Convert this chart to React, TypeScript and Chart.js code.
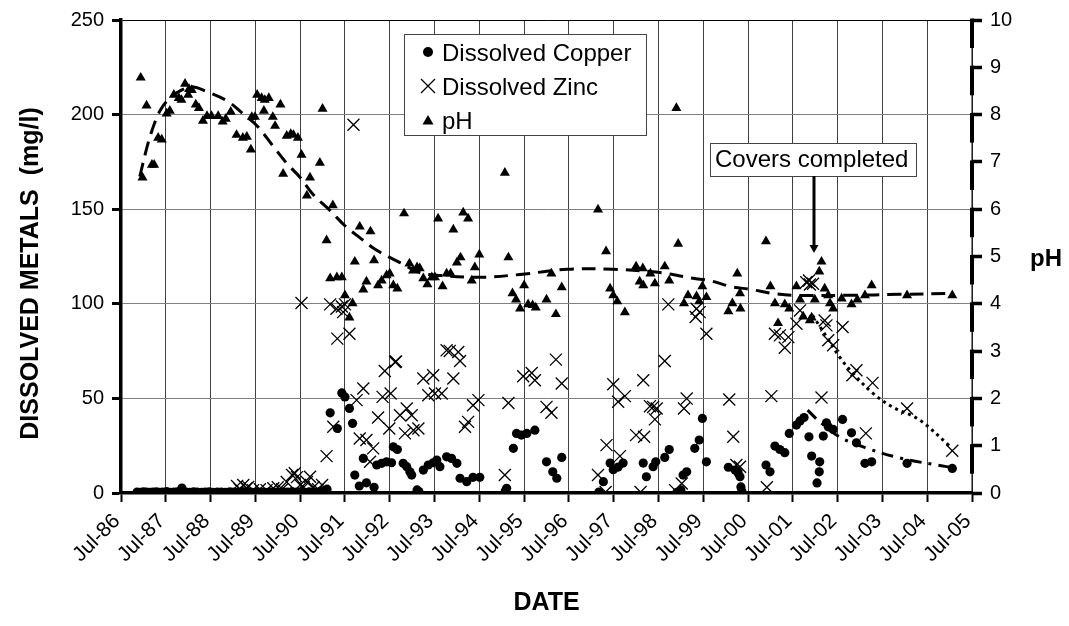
import React, { useEffect, useRef } from "react";
import { Chart, registerables } from "chart.js";

Chart.register(...registerables);

const FONT = "'Liberation Sans', Arial, Helvetica, sans-serif";

// X axis ticks (decimal years, July of each year)
const xTickValues = [1986.5, 1987.5, 1988.5, 1989.5, 1990.5, 1991.5, 1992.5, 1993.5, 1994.5, 1995.5, 1996.5, 1997.5, 1998.5, 1999.5, 2000.5, 2001.5, 2002.5, 2003.5, 2004.5, 2005.5];
const xTickLabels = ["Jul-86", "Jul-87", "Jul-88", "Jul-89", "Jul-90", "Jul-91", "Jul-92", "Jul-93", "Jul-94", "Jul-95", "Jul-96", "Jul-97", "Jul-98", "Jul-99", "Jul-00", "Jul-01", "Jul-02", "Jul-03", "Jul-04", "Jul-05"];
const phTickValues = [10, 9, 8, 7, 6, 5, 4, 3, 2, 1, 0];

// Dissolved copper (mg/l)
const copperDates = [
  1986.86, 1986.93, 1987.0, 1987.07, 1987.14, 1987.21, 1987.29, 1987.36, 1987.43, 1987.52, 1987.6, 1987.68, 1987.76, 1987.86, 1987.95,
  1988.03, 1988.12, 1988.2, 1988.3, 1988.38, 1988.47, 1988.55, 1988.65, 1988.74, 1988.83, 1988.93, 1989.02, 1989.12, 1989.22, 1989.32,
  1989.42, 1989.52, 1989.62, 1989.72, 1989.82, 1989.92, 1990.02, 1990.12, 1990.22, 1990.32, 1990.42, 1990.5, 1990.6, 1990.7, 1990.8,
  1990.88, 1990.96, 1991.03, 1991.1,
  1991.17, 1991.33, 1991.43, 1991.5, 1991.6, 1991.67, 1991.72, 1991.82, 1991.91, 1991.98, 1992.15, 1992.21, 1992.32, 1992.43, 1992.54,
  1992.58, 1992.67, 1992.8, 1992.88, 1992.95, 1992.99, 1993.11, 1993.15, 1993.25, 1993.36, 1993.47, 1993.55, 1993.62, 1993.77, 1993.88,
  1994.0, 1994.07, 1994.22, 1994.36, 1994.51, 1995.08, 1995.11, 1995.26, 1995.33, 1995.44, 1995.56, 1995.74, 1996.0, 1996.14, 1996.23,
  1996.34, 1997.17, 1997.27, 1997.42, 1997.49, 1997.6, 1997.71, 1998.16, 1998.23, 1998.38, 1998.44, 1998.64, 1998.74, 1998.91, 1999.0,
  1999.05, 1999.13, 1999.31, 1999.41, 1999.48, 1999.57, 2000.06, 2000.21, 2000.28, 2000.32, 2000.34, 2000.36, 2000.9, 2000.99, 2001.1,
  2001.21, 2001.32, 2001.42, 2001.58, 2001.66, 2001.75, 2001.86, 2001.92, 2002.04, 2002.09, 2002.1, 2002.18, 2002.25, 2002.29, 2002.4,
  2002.61, 2002.81, 2002.92, 2003.11, 2003.26, 2004.05, 2005.06,
];
const copperValues = [
  0.5, 0.4, 0.6, 0.5, 0.3, 0.5, 0.6, 0.4, 0.5, 0.7, 0.4, 0.5, 0.6, 2.6, 0.5,
  0.4, 0.6, 0.5, 0.3, 0.5, 0.6, 0.4, 0.5, 0.5, 0.3, 0.6, 0.5, 0.4, 0.7, 0.5,
  0.4, 0.6, 0.5, 0.4, 0.6, 0.5, 0.4, 0.6, 0.5, 0.7, 0.5, 0.6, 0.4, 0.6, 0.5,
  0.4, 1.0, 1.2, 2.0,
  42.4, 34.1, 52.9, 50.8, 44.7, 36.8, 9.5, 3.7, 18.3, 5.4, 3.0, 14.8, 15.7, 16.5, 16.0,
  24.4, 23.0, 15.7, 13.9, 11.2, 9.5, 1.6, 0.8, 12.1, 14.8, 16.0, 17.4, 13.9, 19.1, 18.3,
  15.7, 7.8, 6.0, 8.3, 8.3, 1.0, 2.5, 23.6, 31.5, 30.6, 31.5, 33.2, 16.5, 11.2, 7.8,
  18.8, 0.5, 6.0, 15.8, 12.3, 13.7, 15.8, 15.8, 8.6, 13.9, 16.5, 18.8, 23.0, 0.3, 1.6,
  9.5, 11.2, 23.6, 28.0, 39.4, 16.5, 13.6, 12.1, 10.4, 8.6, 3.2, 1.0, 14.8, 11.2, 24.8,
  23.0, 21.3, 31.5, 35.9, 38.1, 39.9, 29.7, 19.5, 5.3, 11.2, 16.5, 30.1, 37.1, 35.0, 33.6,
  38.9, 31.8, 26.5, 15.7, 16.5, 15.7, 13.0,
];

// Dissolved zinc (mg/l)
const zincDates = [
  1989.09, 1989.15, 1989.23, 1989.3, 1989.34, 1989.45, 1989.6, 1989.75, 1989.9, 1990.0, 1990.1, 1990.2, 1990.32, 1990.38, 1990.43,
  1990.5, 1990.53, 1990.58, 1990.65, 1990.72, 1990.8, 1990.9, 1990.99, 1991.09, 1991.17, 1991.24, 1991.31, 1991.33, 1991.43, 1991.46,
  1991.5, 1991.6, 1991.69, 1991.76, 1991.83, 1991.91, 1991.98, 1992.06, 1992.13, 1992.24, 1992.34, 1992.39, 1992.49, 1992.52, 1992.62,
  1992.64, 1992.73, 1992.84, 1992.88, 1992.99, 1993.03, 1993.14, 1993.25, 1993.36, 1993.47, 1993.51, 1993.66, 1993.77, 1993.84, 1993.92,
  1994.03, 1994.07, 1994.18, 1994.25, 1994.36, 1994.48, 1995.07, 1995.15, 1995.48, 1995.67, 1995.74, 1996.0, 1996.11, 1996.21, 1996.34,
  1997.15, 1997.32, 1997.34, 1997.49, 1997.6, 1997.64, 1997.75, 1998.0, 1998.1, 1998.16, 1998.18, 1998.31, 1998.38, 1998.42, 1998.46,
  1998.64, 1998.72, 1998.87, 1999.02, 1999.07, 1999.13, 1999.33, 1999.35, 1999.42, 1999.57, 2000.08, 2000.17, 2000.24, 2000.32, 2000.92,
  2001.02, 2001.1, 2001.21, 2001.32, 2001.4, 2001.58, 2001.66, 2001.8, 2001.86, 2001.88, 2001.95, 2002.14, 2002.21, 2002.25, 2002.29,
  2002.4, 2002.61, 2002.83, 2002.92, 2003.13, 2003.28, 2004.05, 2005.06,
];
const zincValues = [
  3.7, 2.0, 4.2, 2.5, 3.2, 1.5, 2.0, 1.5, 2.5, 3.0, 2.0, 5.8, 9.5, 10.4, 8.4,
  4.2, 100.4, 3.0, 5.8, 8.6, 3.0, 2.0, 4.2, 19.5, 99.7, 35.0, 97.4, 81.6, 98.6, 95.6,
  99.7, 84.2, 194.6, 49.1, 28.8, 55.2, 28.0, 16.5, 23.6, 39.9, 50.8, 64.5, 34.1, 52.6, 69.2,
  69.5, 41.1, 31.5, 44.7, 41.1, 33.2, 34.1, 60.5, 51.7, 62.2, 52.6, 52.6, 75.4, 75.1, 60.5,
  74.5, 69.8, 35.0, 37.6, 46.4, 49.1, 9.5, 47.6, 61.7, 63.4, 59.6, 45.5, 42.4, 70.5, 57.9,
  9.5, 0.5, 25.3, 57.5, 48.2, 19.5, 51.2, 30.6, 0.5, 59.6, 29.7, 45.9, 45.5, 38.9, 44.7,
  69.8, 99.7, 1.5, 5.0, 44.7, 49.9, 93.0, 97.4, 95.6, 84.2, 49.4, 29.7, 14.8, 13.9, 3.0,
  51.2, 84.2, 83.3, 76.8, 82.4, 89.5, 96.5, 111.4, 112.3, 110.2, 110.6, 50.5, 91.2, 88.6, 80.7,
  78.1, 87.7, 62.2, 64.9, 31.5, 58.2, 44.7, 22.3,
];

// pH
const phDates = [
  1986.94, 1987.07, 1986.98, 1987.19, 1987.24, 1987.33, 1987.41, 1987.52, 1987.59, 1987.68, 1987.79, 1987.85, 1987.93, 1988.02, 1988.08,
  1988.0, 1988.17, 1988.24, 1988.33, 1988.42, 1988.52, 1988.67, 1988.77, 1988.84, 1988.95, 1989.08, 1989.22, 1989.31, 1989.4, 1989.42,
  1989.49, 1989.54, 1989.64, 1989.71, 1989.8, 1989.69, 1989.89, 1989.94, 1990.06, 1990.2, 1990.29, 1990.35, 1990.45, 1990.53, 1990.12,
  1990.72, 1990.94, 1990.65, 1991.0, 1991.23, 1991.09, 1991.83, 1992.07, 1991.72, 1992.15, 1991.17, 1991.32, 1991.43, 1991.5, 1991.67,
  1991.6, 1991.98, 1991.91, 1992.24, 1992.32, 1992.43, 1992.5, 1992.58, 1992.67, 1992.82, 1992.94, 1993.02, 1993.11, 1993.17, 1993.25,
  1993.34, 1993.44, 1993.51, 1993.58, 1993.68, 1993.77, 1993.86, 1993.92, 1994.0, 1994.08, 1994.14, 1994.25, 1994.33, 1994.4, 1994.5,
  1995.07, 1995.15, 1995.24, 1995.32, 1995.41, 1995.5, 1995.59, 1995.69, 1995.76, 1996.0, 1996.11, 1996.21, 1996.34, 1997.15, 1997.33,
  1997.42, 1997.49, 1997.58, 1997.75, 1998.0, 1998.15, 1998.08, 1998.16, 1998.32, 1998.42, 1998.64, 1998.74, 1998.9, 1998.94, 1999.07,
  1999.16, 1999.35, 1999.41, 1999.57, 1999.48, 2000.06, 2000.15, 2000.26, 2000.32, 2000.33, 2000.9, 2001.0, 2001.1, 2001.17, 2001.32,
  2001.42, 2001.58, 2001.66, 2001.73, 2001.88, 2001.92, 2001.99, 2002.09, 2002.14, 2002.21, 2002.29, 2002.33, 2002.4, 2002.59, 2002.81,
  2002.94, 2003.11, 2003.26, 2004.05, 2005.06,
];
const phValues = [
  8.78, 8.19, 6.67, 6.94, 6.94, 7.51, 7.47, 8.02, 8.08, 8.42, 8.35, 8.31, 8.65, 8.54, 8.52,
  8.42, 8.21, 8.14, 7.87, 7.97, 7.97, 7.97, 7.85, 7.91, 8.06, 7.57, 7.51, 7.53, 7.26, 7.95,
  7.95, 8.42, 8.35, 8.31, 8.35, 8.08, 7.95, 7.76, 8.21, 7.55, 7.59, 7.57, 7.51, 7.15, 6.75,
  6.67, 6.98, 6.29, 8.12, 6.08, 5.34, 5.63, 5.53, 4.89, 4.92, 4.54, 4.56, 4.56, 4.18, 4.01,
  3.71, 4.47, 4.30, 4.39, 4.49, 4.60, 4.64, 4.39, 4.32, 5.91, 4.85, 4.70, 4.77, 4.75, 4.54,
  4.41, 4.56, 4.56, 5.80, 4.37, 4.64, 4.64, 5.57, 4.87, 4.98, 5.93, 5.80, 4.49, 4.77, 5.04,
  6.77, 4.98, 4.22, 4.09, 3.90, 4.39, 3.99, 3.97, 3.92, 4.09, 4.64, 3.78, 4.35, 5.99, 5.11,
  4.32, 4.18, 4.05, 3.82, 4.79, 4.75, 4.47, 4.39, 4.64, 4.43, 4.79, 4.49, 8.14, 5.27, 4.01,
  4.18, 4.16, 4.05, 4.14, 4.37, 3.84, 4.01, 4.64, 4.22, 3.90, 5.32, 4.37, 4.01, 3.59, 3.99,
  3.90, 4.37, 4.09, 3.73, 3.65, 3.71, 4.09, 4.68, 4.89, 4.32, 4.18, 4.01, 3.90, 4.11, 3.99,
  4.09, 4.18, 4.39, 4.18, 4.18,
];

// Trend lines
const phTrendDates = [1986.92, 1987.06, 1987.19, 1987.37, 1987.59, 1987.82, 1988.08, 1988.38, 1988.87, 1989.22, 1989.54, 1989.89, 1990.21, 1990.5, 1990.79, 1991.17, 1991.5, 1991.83, 1992.21, 1992.73, 1993.17, 1993.62, 1994.51, 1995.41, 1996.46, 1997.48, 1998.53, 1999.27, 1999.65, 2000.09, 2000.58, 2001.05, 2001.5, 2002.77, 2003.89, 2005.0];
const phTrendValues = [6.69, 7.24, 7.66, 8.08, 8.35, 8.5, 8.59, 8.5, 8.29, 8.02, 7.76, 7.34, 6.96, 6.67, 6.31, 5.97, 5.65, 5.4, 5.13, 4.87, 4.66, 4.6, 4.56, 4.62, 4.73, 4.73, 4.66, 4.54, 4.49, 4.37, 4.3, 4.22, 4.18, 4.18, 4.2, 4.22];
const zincTrendDates = [2001.94, 2002.26, 2002.55, 2002.84, 2003.29, 2003.73, 2004.33, 2005.0];
const zincTrendValues = [93.9, 82.3, 71.7, 63.3, 52.7, 45.4, 38.6, 24.8];
const copperTrendDates = [2001.83, 2002.06, 2002.55, 2003.15, 2003.89, 2004.71, 2005.0];
const copperTrendValues = [43.8, 38.5, 29.5, 23.7, 18.5, 14.8, 13.7];

const coversCompletedDate = 2001.97;

const legendItems = ["Dissolved Copper", "Dissolved Zinc", "pH"];

const toPoints = (xs, ys) => xs.map((x, i) => ({ x, y: ys[i] }));

const overlayPlugin = {
  id: "overlay",
  afterDraw(chart) {
    const ctx = chart.ctx;
    const y2 = chart.scales.y2;
    const yl = chart.scales.y;
    const xs = chart.scales.x;
    ctx.save();

    // Right (pH) axis line: thin line with thick dashes below each tick
    const ax = y2.left;
    ctx.strokeStyle = "#000";
    ctx.lineWidth = 1;
    ctx.beginPath();
    ctx.moveTo(ax, y2.top);
    ctx.lineTo(ax, y2.bottom);
    ctx.stroke();
    ctx.lineWidth = 4;
    ctx.lineCap = "butt";
    for (const v of phTickValues) {
      if (v === 0) continue;
      const py = y2.getPixelForValue(v);
      ctx.beginPath();
      ctx.moveTo(ax, py - 1.5);
      ctx.lineTo(ax, py + 28);
      ctx.stroke();
    }

    // pH title (horizontal)
    ctx.fillStyle = "#000";
    ctx.font = "bold 24px " + FONT;
    ctx.textAlign = "left";
    ctx.textBaseline = "alphabetic";
    ctx.fillText("pH", 1030, 266);

    // Left axis title (rotated)
    ctx.save();
    ctx.translate(31, (yl.top + yl.bottom) / 2 + 17);
    ctx.rotate(-Math.PI / 2);
    ctx.textAlign = "center";
    ctx.textBaseline = "middle";
    ctx.font = "bold 25px " + FONT;
    ctx.fillText("DISSOLVED METALS  (mg/l)", 0, 0);
    ctx.restore();

    // Legend box
    const lx = 404, ly = 34, lw = 242, lh = 101;
    ctx.fillStyle = "#fff";
    ctx.fillRect(lx, ly, lw, lh);
    ctx.strokeStyle = "#444";
    ctx.lineWidth = 1;
    ctx.strokeRect(lx + 0.5, ly + 0.5, lw, lh);
    ctx.fillStyle = "#000";
    ctx.font = "24px " + FONT;
    ctx.textAlign = "left";
    ctx.textBaseline = "alphabetic";
    const rowY = [52, 86, 120];
    const mx = 428;
    legendItems.forEach((t, i) => {
      ctx.fillText(t, 442, rowY[i] + 8.5);
    });
    // copper marker
    ctx.beginPath();
    ctx.arc(mx, rowY[0], 5, 0, Math.PI * 2);
    ctx.fill();
    // zinc marker
    ctx.strokeStyle = "#000";
    ctx.lineWidth = 1.3;
    ctx.beginPath();
    ctx.moveTo(mx - 7, rowY[1] - 7);
    ctx.lineTo(mx + 7, rowY[1] + 7);
    ctx.moveTo(mx + 7, rowY[1] - 7);
    ctx.lineTo(mx - 7, rowY[1] + 7);
    ctx.stroke();
    // pH marker
    ctx.beginPath();
    ctx.moveTo(mx, rowY[2] - 5);
    ctx.lineTo(mx + 5.5, rowY[2] + 4.5);
    ctx.lineTo(mx - 5.5, rowY[2] + 4.5);
    ctx.closePath();
    ctx.fill();

    // Annotation "Covers completed"
    const bx = 710, by = 143, bw = 206, bh = 33;
    ctx.fillStyle = "#fff";
    ctx.fillRect(bx, by, bw, bh);
    ctx.strokeStyle = "#444";
    ctx.lineWidth = 1;
    ctx.strokeRect(bx + 0.5, by + 0.5, bw, bh);
    ctx.fillStyle = "#000";
    ctx.font = "24px " + FONT;
    ctx.fillText("Covers completed", 715, 167);
    const arrowX = Math.round(xs.getPixelForValue(coversCompletedDate));
    ctx.strokeStyle = "#000";
    ctx.lineWidth = 3;
    ctx.beginPath();
    ctx.moveTo(arrowX, by + bh);
    ctx.lineTo(arrowX, 247);
    ctx.stroke();
    ctx.beginPath();
    ctx.moveTo(arrowX - 4.5, 245);
    ctx.lineTo(arrowX + 4.5, 245);
    ctx.lineTo(arrowX, 253);
    ctx.closePath();
    ctx.fill();

    ctx.restore();
  },
};

export default function App() {
  const canvasRef = useRef(null);

  useEffect(() => {
    const canvas = canvasRef.current;
    if (!canvas) return;
    Chart.defaults.font.family = FONT;
    Chart.defaults.color = "#000";

    const chart = new Chart(canvas, {
      data: {
        datasets: [
          {
            type: "line",
            label: "pH trend",
            data: toPoints(phTrendDates, phTrendValues),
            yAxisID: "y2",
            borderColor: "#000",
            borderWidth: 3,
            borderDash: [14, 8],
            pointRadius: 0,
            tension: 0.35,
            fill: false,
          },
          {
            type: "line",
            label: "Zinc trend",
            data: toPoints(zincTrendDates, zincTrendValues),
            yAxisID: "y",
            borderColor: "#000",
            borderWidth: 3,
            borderDash: [3, 4],
            pointRadius: 0,
            tension: 0.35,
            fill: false,
          },
          {
            type: "line",
            label: "Copper trend",
            data: toPoints(copperTrendDates, copperTrendValues),
            yAxisID: "y",
            borderColor: "#000",
            borderWidth: 3,
            borderDash: [12, 7, 3, 7],
            pointRadius: 0,
            tension: 0.35,
            fill: false,
          },
          {
            type: "scatter",
            label: "Dissolved Copper",
            data: toPoints(copperDates, copperValues),
            yAxisID: "y",
            pointStyle: "circle",
            pointRadius: 4.6,
            backgroundColor: "#000",
            borderColor: "#000",
            borderWidth: 0,
          },
          {
            type: "scatter",
            label: "Dissolved Zinc",
            data: toPoints(zincDates, zincValues),
            yAxisID: "y",
            pointStyle: "crossRot",
            pointRadius: 8.5,
            backgroundColor: "#000",
            borderColor: "#000",
            borderWidth: 1.3,
          },
          {
            type: "scatter",
            label: "pH",
            data: toPoints(phDates, phValues),
            yAxisID: "y2",
            pointStyle: "triangle",
            pointRadius: 5.8,
            backgroundColor: "#000",
            borderColor: "#000",
            borderWidth: 0,
          },
        ],
      },
      options: {
        responsive: false,
        animation: false,
        devicePixelRatio: 1,
        layout: { padding: { top: 19, left: 0, right: 0, bottom: 0 } },
        plugins: {
          legend: { display: false },
          tooltip: { enabled: false },
        },
        scales: {
          x: {
            type: "linear",
            position: "bottom",
            min: 1986.5,
            max: 2005.5,
            afterBuildTicks: (scale) => {
              scale.ticks = xTickValues.map((v) => ({ value: v }));
            },
            afterFit: (scale) => {
              scale.height = 133;
            },
            ticks: {
              minRotation: 45,
              maxRotation: 45,
              autoSkip: false,
              padding: 7,
              labelOffset: -4,
              font: { size: 21 },
              color: "#000",
              callback: (value, index) => xTickLabels[index],
            },
            grid: {
              color: "#404040",
              lineWidth: 1,
              drawTicks: true,
              tickLength: 9,
              tickWidth: 2,
              tickColor: "#000",
            },
            border: { display: true, color: "#000", width: 3.5 },
            title: {
              display: true,
              text: "DATE",
              font: { size: 25, weight: "bold" },
              color: "#000",
              padding: { top: 0, bottom: 8 },
            },
          },
          y: {
            type: "linear",
            position: "left",
            min: 0,
            max: 250,
            afterFit: (scale) => {
              scale.width = 121;
            },
            ticks: {
              stepSize: 50,
              padding: 8,
              font: { size: 20 },
              color: "#000",
            },
            grid: {
              color: (c) => (c.tick && c.tick.value === 250 ? "#000" : "#808080"),
              lineWidth: 1,
              tickLength: 9,
              tickWidth: 3,
              tickColor: "#000",
            },
            border: { display: true, color: "#000", width: 3.5 },
            title: { display: false },
          },
          y2: {
            type: "linear",
            position: "right",
            min: 0,
            max: 10,
            afterFit: (scale) => {
              scale.width = 97;
            },
            ticks: {
              stepSize: 1,
              padding: 8,
              font: { size: 20 },
              color: "#000",
            },
            grid: {
              drawOnChartArea: false,
              tickLength: 10,
              tickWidth: 3.5,
              tickColor: "#000",
            },
            border: { display: false },
          },
        },
      },
      plugins: [overlayPlugin],
    });

    return () => {
      chart.destroy();
    };
  }, []);

  return (
    <div style={{ position: "absolute", left: 0, top: 0, width: 1069, height: 626, background: "#fff" }}>
      <canvas ref={canvasRef} width={1069} height={626} style={{ width: 1069, height: 626, display: "block" }} />
    </div>
  );
}
